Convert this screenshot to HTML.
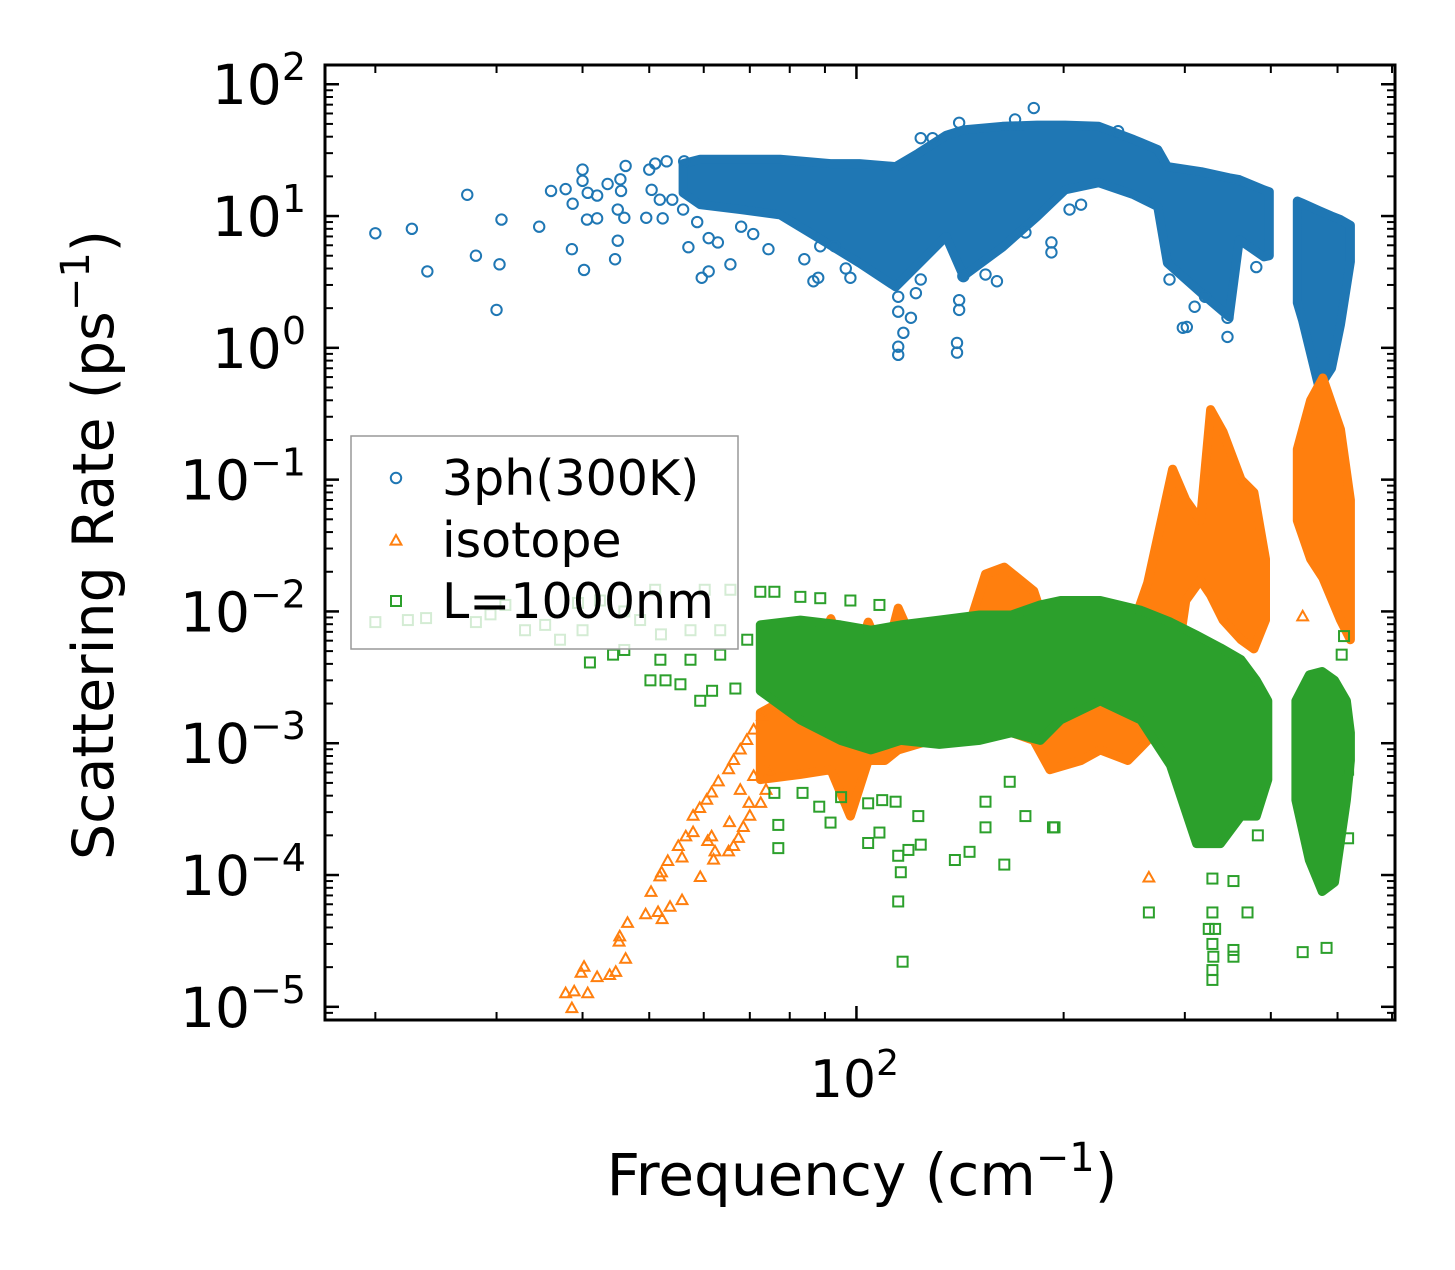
<!DOCTYPE html>
<html><head><meta charset="utf-8">
<style>
html,body{margin:0;padding:0;background:#fff;}
svg{display:block;font-family:"DejaVu Sans","Liberation Sans",sans-serif;}
</style></head>
<body>
<svg id="chart" width="1455" height="1270" viewBox="0 0 1455 1270" xmlns="http://www.w3.org/2000/svg">
<rect width="1455" height="1270" fill="#fff"/>
<defs><clipPath id="plotclip"><rect x="325" y="65" width="1070" height="955"/></clipPath></defs>
<g id="bands" clip-path="url(#plotclip)"></g>
<g id="marks" clip-path="url(#plotclip)"></g>
<g id="legend"></g>
<g id="axes"></g>
</svg>
<script>
// ---- axis ranges ----
const xDomain = [16.9, 606];
const yDomain = [10 ** -5.1, 10 ** 2.146];
const yTickExps = [2, 1, 0, -1, -2, -3, -4, -5];
const xTickExps = [2];

// ---- 3ph(300K) : dense region bands ----
const blueBand1F = [56, 59.3, 67.8, 77.5, 91.7, 101, 114, 123, 135, 143, 163, 183, 201, 225, 253, 274, 283, 317, 348, 360, 391, 398];
const blueBand1Hi = [25, 27, 27, 27, 25, 25, 23.7, 30, 41, 45, 48, 49, 49, 48, 38, 32, 23.7, 21.7, 19.5, 18.9, 15.8, 15.3];
const blueBand1Lo = [15, 12.2, 11.2, 10.2, 6.0, 4.4, 2.9, 4.3, 7.0, 3.5, 5.8, 9.9, 15.8, 17.9, 14.5, 11.8, 4.4, 2.6, 1.72, 6.6, 4.9, 5.0];
const blueBand2F = [437, 445, 470, 490, 505, 522];
const blueBand2Hi = [13, 12.5, 11, 10, 9.4, 8.5];
const blueBand2Lo = [2.2, 1.6, 0.5, 0.7, 1.5, 4.5];
// ---- 3ph(300K) : individual points ----
const blueF = [20, 22.6, 23.8, 27.2, 30.5, 28, 30.3, 30, 34.6, 36, 37.8, 38.7, 40, 40, 38.6, 40.2, 40.7, 42, 40.6, 42, 43.5, 45.4, 45.5, 46.2, 45, 46, 45, 44.6, 49.5, 52.3, 50, 51, 53, 50.4, 51.8, 54, 56.2, 56, 57, 59.6, 61, 58.7, 61, 62.9, 65.6, 68, 70.8, 74.5, 84, 86.6, 88, 88.6, 93, 98, 96.5,
  115, 115, 117, 115, 115, 120, 122, 124, 141, 141, 140, 140, 143, 160, 154, 192, 192, 176, 212, 204, 181, 170, 141, 124, 129, 240, 285, 298, 302, 346, 346, 310, 381, 321];
const blueV = [7.4, 8.0, 3.8, 14.5, 9.4, 5.0, 4.3, 1.94, 8.3, 15.5, 16, 12.4, 22.5, 18.5, 5.6, 3.9, 15, 14.3, 9.4, 9.6, 17.5, 19, 15.5, 24, 11.2, 9.7, 6.5, 4.7, 9.7, 9.6, 22.5, 25, 26, 15.8, 13.3, 13.3, 26, 11.2, 5.8, 3.4, 3.8, 9, 6.8, 6.3, 4.3, 8.3, 7.3, 5.6, 4.7, 3.2, 3.4, 5.9, 5.9, 3.4, 4,
  2.44, 1.88, 1.30, 0.885, 1.02, 1.69, 2.6, 3.3, 2.3, 1.94, 1.09, 0.92, 3.5, 3.2, 3.6, 5.3, 6.3, 7.5, 12.2, 11.2, 66, 54, 51, 39, 39, 44, 3.3, 1.42, 1.44, 1.21, 1.69, 2.05, 4.1, 2.44];

// ---- isotope : dense region bands ----
const orangeBand1F = [72.5, 82.9, 91.8, 98, 104, 110, 115, 128, 142, 154, 164, 181, 191, 212, 226, 248, 265, 288, 301, 316, 327, 341, 362, 378, 393];
const orangeBand1Hi = [0.0017, 0.0025, 0.0088, 0.0030, 0.0083, 0.0043, 0.0106, 0.0030, 0.0051, 0.0192, 0.0217, 0.0143, 0.0061, 0.0030, 0.0043, 0.0061, 0.0165, 0.12, 0.07, 0.049, 0.34, 0.23, 0.10, 0.08, 0.025];
const orangeBand1Lo = [0.00053, 0.00058, 0.00063, 0.00028, 0.00074, 0.00074, 0.00089, 0.00105, 0.00105, 0.00126, 0.00126, 0.00105, 0.00063, 0.00074, 0.00089, 0.00074, 0.00105, 0.0025, 0.0121, 0.0173, 0.0133, 0.0086, 0.0061, 0.0052, 0.0086];
const orangeBand2F = [437, 457, 476, 505, 522];
const orangeBand2Hi = [0.17, 0.40, 0.59, 0.24, 0.07];
const orangeBand2Lo = [0.049, 0.025, 0.018, 0.0086, 0.0061];
// ---- isotope : individual points ----
const orangeF = [38.6, 37.8, 38.9, 40.7, 40.2, 39.8, 42, 43.8, 44.7, 46.2, 45.3, 45.2, 46.5, 49.4, 51.5, 52.2, 53.6, 55.8, 50.3, 51.8, 52.1, 53.2, 55.8, 55.1, 56.5, 57.9, 59.3, 62, 62.3, 60.8, 61.6, 65.2, 66.3, 67.4, 68.5, 70, 57.9, 59.2, 60.6, 61.6, 63, 65.2, 65.4, 67.8, 69.8, 70.9, 72.6, 73.9, 74.9, 66.3, 67.8, 69.3, 70.9, 73, 82, 266, 445];
const orangeV = [9.7e-6, 1.26e-5, 1.3e-5, 1.26e-5, 2.0e-5, 1.8e-5, 1.67e-5, 1.73e-5, 1.83e-5, 2.3e-5, 3.4e-5, 3.1e-5, 4.3e-5, 5e-5, 5.2e-5, 4.6e-5, 5.7e-5, 6.4e-5, 7.4e-5, 9.7e-5, 1.04e-4, 1.27e-4, 1.35e-4, 1.65e-4, 1.95e-4, 2.1e-4, 9.6e-5, 1.3e-4, 1.5e-4, 1.8e-4, 1.95e-4, 1.5e-4, 1.65e-4, 1.9e-4, 2.3e-4, 2.8e-4, 2.8e-4, 3.2e-4, 3.7e-4, 4.2e-4, 5.1e-4, 6.3e-4, 2.5e-4, 4.4e-4, 3.5e-4, 5.6e-4, 3.5e-4, 4.4e-4, 6e-4, 7.4e-4, 8.9e-4, 1.05e-3, 1.26e-3, 1.6e-3, 6e-4, 9.5e-5, 0.0091];

// ---- L=1000nm : dense region bands ----
const greenBand1F = [72.5, 82.9, 94.8, 105, 116, 132, 151, 168, 185, 198, 226, 259, 286, 312, 338, 362, 381, 396];
const greenBand1Hi = [0.0079, 0.0086, 0.0079, 0.0072, 0.0079, 0.0086, 0.0094, 0.0094, 0.0112, 0.0121, 0.0121, 0.0102, 0.0083, 0.0066, 0.0053, 0.0043, 0.0030, 0.0021];
const greenBand1Lo = [0.0025, 0.0015, 0.00105, 0.00089, 0.00105, 0.00098, 0.00105, 0.0012, 0.00105, 0.0015, 0.0021, 0.0015, 0.00068, 0.000173, 0.000173, 0.00028, 0.00028, 0.00053];
const greenBand2F = [435, 455, 475, 495, 515, 522];
const greenBand2Hi = [0.0021, 0.0033, 0.0035, 0.0030, 0.0021, 0.0012];
const greenBand2Lo = [0.00037, 0.00013, 0.000075, 0.000088, 0.00037, 0.00074];
// ---- L=1000nm : individual points ----
const greenF = [20, 22.3, 23.7, 28, 30.9, 29.4, 33, 35.3, 39.4, 42.4, 46, 51, 60.2, 65.6, 37.1, 41, 40, 44.3, 46, 50.2, 52.8, 55.5, 59.3, 61.7, 66.7, 48.5, 52, 57.4, 63.4, 69.4, 51.9, 57.4, 63.4, 72.5, 76, 82.9, 88.6, 98, 108,
  77, 77, 76, 83.5, 88.3, 91.7, 95, 104, 108, 115, 119, 124, 116, 115, 116.7, 139, 146, 164, 154, 154, 176, 194, 104, 109, 123, 114, 167,
  193, 266, 329, 329, 325, 332, 329, 330, 329, 329, 353, 353, 353, 370, 383, 445, 482, 518, 518, 511, 507];
const greenV = [0.0083, 0.0086, 0.0089, 0.0083, 0.0112, 0.0095, 0.0072, 0.0079, 0.0116, 0.0121, 0.0100, 0.0146, 0.0146, 0.0146, 0.0061, 0.0041, 0.0072, 0.0047, 0.0051, 0.0030, 0.0030, 0.0028, 0.0021, 0.0025, 0.0026, 0.0086, 0.0067, 0.0072, 0.0072, 0.0061, 0.0043, 0.0043, 0.0047, 0.0141, 0.0141, 0.0129, 0.0126, 0.0121, 0.0112,
  1.6e-4, 2.4e-4, 4.2e-4, 4.2e-4, 3.3e-4, 2.5e-4, 3.9e-4, 1.75e-4, 2.1e-4, 1.4e-4, 1.55e-4, 1.7e-4, 1.05e-4, 6.3e-5, 2.2e-5, 1.3e-4, 1.5e-4, 1.2e-4, 2.3e-4, 3.6e-4, 2.8e-4, 2.3e-4, 3.5e-4, 3.7e-4, 2.8e-4, 3.6e-4, 5.1e-4,
  2.3e-4, 5.2e-5, 9.4e-5, 5.2e-5, 3.9e-5, 3.9e-5, 3.0e-5, 2.4e-5, 1.9e-5, 1.6e-5, 9e-5, 2.7e-5, 2.4e-5, 5.2e-5, 2e-4, 2.6e-5, 2.8e-5, 1.9e-4, 6.3e-4, 6.5e-3, 4.7e-3];

// ---- scales ----
const PL = 325, PR = 1395, PT = 65, PB = 1020;
function xs(f) { return PL + (Math.log10(f) - Math.log10(xDomain[0])) / (Math.log10(xDomain[1]) - Math.log10(xDomain[0])) * (PR - PL); }
function ys(v) { return PB - (Math.log10(v) - Math.log10(yDomain[0])) / (Math.log10(yDomain[1]) - Math.log10(yDomain[0])) * (PB - PT); }

const NS = "http://www.w3.org/2000/svg";
function mk(tag, attrs, parent) {
  const e = document.createElementNS(NS, tag);
  for (const k in attrs) e.setAttribute(k, attrs[k]);
  parent.appendChild(e);
  return e;
}
const C_BLUE = "#1f77b4", C_OR = "#ff7f0e", C_GR = "#2ca02c";
const bands = document.getElementById("bands");
const marks = document.getElementById("marks");

function drawBandIn(F, Hi, Lo, color, name, parent) {
  let d = "";
  F.forEach((f, i) => { d += (i ? "L" : "M") + xs(f).toFixed(1) + "," + ys(Hi[i]).toFixed(1); });
  for (let i = F.length - 1; i >= 0; i--) d += "L" + xs(F[i]).toFixed(1) + "," + ys(Lo[i]).toFixed(1);
  d += "Z";
  const p = mk("path", { d: d, fill: color, stroke: color, "stroke-width": 9, "stroke-linejoin": "round" }, parent);
  
  
}
function circle(x, y, parent) {
  return mk("circle", { cx: x, cy: y, r: 5.2, fill: "none", stroke: C_BLUE, "stroke-width": 2 }, parent);
}
function tri(x, y, parent) {
  const s = 6;
  return mk("path", { d: `M${x},${y - s}L${x + s * 0.9},${y + s * 0.6}L${x - s * 0.9},${y + s * 0.6}Z`, fill: "none", stroke: C_OR, "stroke-width": 2 }, parent);
}
function sq(x, y, parent) {
  return mk("rect", { x: x - 5, y: y - 5, width: 10, height: 10, fill: "none", stroke: C_GR, "stroke-width": 2 }, parent);
}

drawBandIn(blueBand1F, blueBand1Hi, blueBand1Lo, C_BLUE, "3ph-dense-region-1", bands);
drawBandIn(blueBand2F, blueBand2Hi, blueBand2Lo, C_BLUE, "3ph-dense-region-2", bands);
blueF.forEach((f, i) => {
  const c = circle(xs(f), ys(blueV[i]), marks);
  
  
});
const orangeLayer = mk("g", {}, marks);
drawBandIn(orangeBand1F, orangeBand1Hi, orangeBand1Lo, C_OR, "isotope-dense-region-1", orangeLayer);
drawBandIn(orangeBand2F, orangeBand2Hi, orangeBand2Lo, C_OR, "isotope-dense-region-2", orangeLayer);
orangeF.forEach((f, i) => {
  const t = tri(xs(f), ys(orangeV[i]), orangeLayer);
  
  
});
const greenLayer = mk("g", {}, marks);
drawBandIn(greenBand1F, greenBand1Hi, greenBand1Lo, C_GR, "boundary-dense-region-1", greenLayer);
drawBandIn(greenBand2F, greenBand2Hi, greenBand2Lo, C_GR, "boundary-dense-region-2", greenLayer);
greenF.forEach((f, i) => {
  const s = sq(xs(f), ys(greenV[i]), greenLayer);
  
  
});

// ---- legend ----
const lg = document.getElementById("legend");
mk("rect", { x: 351, y: 436, width: 387, height: 213, fill: "rgba(255,255,255,0.8)", stroke: "#999", "stroke-width": 1.5 }, lg);
const legLabels = ["3ph(300K)", "isotope", "L=1000nm"];
const legY = [478, 540, 601];
legLabels.forEach((lab, i) => {
  const g = mk("g", {}, lg);
  
  
  if (i === 0) circle(396, legY[i], g);
  else if (i === 1) tri(396, legY[i] + 1, g);
  else sq(396, legY[i], g);
  const t = mk("text", { x: 442, y: legY[i] + 17, "font-size": 49, fill: "#000" }, g);
  t.textContent = lab;
});

// ---- axes ----
const ax = document.getElementById("axes");
mk("rect", { x: PL, y: PT, width: PR - PL, height: PB - PT, fill: "none", stroke: "#000", "stroke-width": 3 }, ax);
for (let e = -5; e <= 2; e++) {
  const y = ys(10 ** e);
  mk("line", { x1: PL, x2: PL + 14, y1: y, y2: y, stroke: "#000", "stroke-width": 2.5 }, ax);
  mk("line", { x1: PR, x2: PR - 14, y1: y, y2: y, stroke: "#000", "stroke-width": 2.5 }, ax);
}
for (let e = -6; e <= 2; e++) {
  for (let m = 2; m <= 9; m++) {
    const v = m * 10 ** e;
    if (v < yDomain[0] || v > yDomain[1]) continue;
    const y = ys(v);
    mk("line", { x1: PL, x2: PL + 8, y1: y, y2: y, stroke: "#000", "stroke-width": 2 }, ax);
    mk("line", { x1: PR, x2: PR - 8, y1: y, y2: y, stroke: "#000", "stroke-width": 2 }, ax);
  }
}
yTickExps.forEach(e => {
  const t = mk("text", { x: 306, y: ys(10 ** e) + 20, "font-size": 55, "text-anchor": "end", fill: "#000" }, ax);
  
  
  const ts1 = mk("tspan", {}, t); ts1.textContent = "10";
  const ts2 = mk("tspan", { dy: -24, "font-size": 38 }, t); ts2.textContent = e < 0 ? "\u2212" + (-e) : String(e);
});
for (let e = 1; e <= 2; e++) {
  for (let m = 1; m <= 9; m++) {
    const f = m * 10 ** e;
    if (f < xDomain[0] || f > xDomain[1]) continue;
    const x = xs(f);
    const L = m === 1 ? 14 : 8;
    mk("line", { x1: x, x2: x, y1: PB, y2: PB - L, stroke: "#000", "stroke-width": m === 1 ? 2.5 : 2 }, ax);
    mk("line", { x1: x, x2: x, y1: PT, y2: PT + L, stroke: "#000", "stroke-width": m === 1 ? 2.5 : 2 }, ax);
  }
}
xTickExps.forEach(e => {
  const t = mk("text", { x: xs(10 ** e) - 2, y: 1097, "font-size": 52, "text-anchor": "middle", fill: "#000" }, ax);
  
  
  const ts1 = mk("tspan", {}, t); ts1.textContent = "10";
  const ts2 = mk("tspan", { dy: -22, "font-size": 36 }, t); ts2.textContent = String(e);
});
const xt = mk("text", { x: 862, y: 1195, "font-size": 58, "text-anchor": "middle", fill: "#000" }, ax);


mk("tspan", {}, xt).textContent = "Frequency (cm";
mk("tspan", { dy: -24, "font-size": 40 }, xt).textContent = "\u22121";
mk("tspan", { dy: 24 }, xt).textContent = ")";
const yt = mk("text", { x: 0, y: 0, "font-size": 57, "text-anchor": "middle", fill: "#000", transform: "translate(113,545) rotate(-90)" }, ax);


mk("tspan", {}, yt).textContent = "Scattering Rate (ps";
mk("tspan", { dy: -24, "font-size": 40 }, yt).textContent = "\u22121";
mk("tspan", { dy: 24 }, yt).textContent = ")";
</script>
</body></html>
